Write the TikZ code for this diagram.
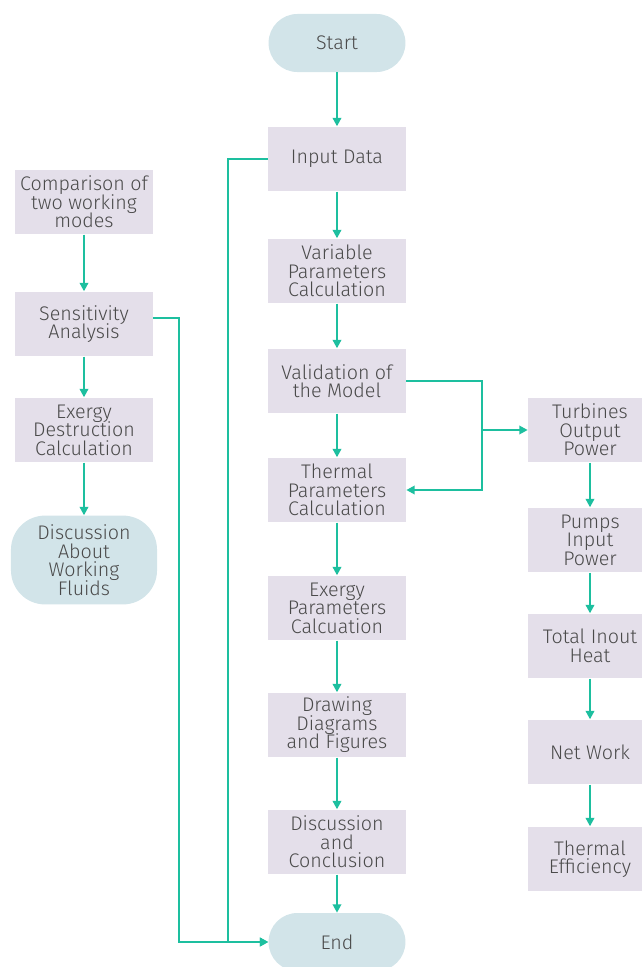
\documentclass[tikz,border=0pt]{standalone}
\usepackage{fontspec}
\setmainfont{Fira Sans Light}
\usetikzlibrary{arrows.meta}

\definecolor{flowline}{HTML}{1DBF9F}
\definecolor{boxfill}{HTML}{E4DFEA}
\definecolor{termfill}{HTML}{D2E4E9}
\definecolor{textgray}{HTML}{4A4A4A}

\newcommand{\boxfont}{\fontsize{14}{13.2}\selectfont\lineskiplimit=-20pt\relax}

\begin{document}
\begin{tikzpicture}[x=0.025cm, y=-0.025cm,
		>={Triangle[length=6pt, width=6pt]}]
\useasboundingbox (0,0) rectangle (641,967);

% Nodos terminales
\begin{scope}[
		every node/.style = {shape = rectangle, fill = termfill,
		rounded corners = 0.72cm, minimum width = 3.42cm,
		minimum height = 1.45cm, text = textgray, font = \boxfont}]
	\node (start) at (337,43) {Start};
	\node (end) at (337,942) {End};
	\node[minimum width = 3.65cm, minimum height = 2.22cm,
		rounded corners = 0.85cm, align = center] (fluids) at (84,560)
		{Discussion\\About\\Working\\Fluids};
\end{scope}

% Nodos proceso
\begin{scope}[
		every node/.style = {shape = rectangle, fill = boxfill,
		minimum width = 3.45cm, minimum height = 1.62cm,
		inner sep = 0pt, align = center, text = textgray,
		font = \boxfont}]
	\node (input) at (337,159) {Input Data};
	\node (varpar) at (337,271) {Variable\\Parameters\\Calculation};
	\node (valid) at (337,381) {Validation of\\the Model};
	\node (thermpar) at (337,490) {Thermal\\Parameters\\Calculation};
	\node (exerpar) at (337,608) {Exergy\\Parameters\\Calcuation};
	\node (diagrams) at (337,725) {Drawing\\Diagrams\\and Figures};
	\node (concl) at (337,842) {Discussion\\and\\Conclusion};

	\node (modes) at (84,202) {Comparison of\\two working\\modes};
	\node (sens) at (84,324) {Sensitivity\\Analysis};
	\node (destr) at (84,430) {Exergy\\Destruction\\Calculation};

	\node[minimum width = 3.1cm] (turb) at (590,430) {Turbines\\Output\\Power};
	\node[minimum width = 3.1cm] (pumps) at (590,540) {Pumps\\Input\\Power};
	\node[minimum width = 3.1cm] (heat) at (590,646) {Total Inout\\Heat};
	\node[minimum width = 3.1cm] (work) at (590,752) {Net Work};
	\node[minimum width = 3.1cm] (eff) at (590,859) {Thermal\\Efficiency};
\end{scope}

\coordinate (split) at (482,430);

% Paths
\begin{scope}[
		every path/.style = {draw = flowline, line width = 1.5pt},
		every edge/.style = {draw = flowline, line width = 1.5pt, ->}]
	\path (start) edge (input);
	\path (input) edge (varpar);
	\path (varpar) edge (valid);
	\path (valid) edge (thermpar);
	\path (thermpar) edge (exerpar);
	\path (exerpar) edge (diagrams);
	\path (diagrams) edge (concl);
	\path (concl) edge (end);

	\path (modes) edge (sens);
	\path (sens) edge (destr);
	\path (destr) edge (fluids);

	\path (turb) edge (pumps);
	\path (pumps) edge (heat);
	\path (heat) edge (work);
	\path (work) edge (eff);

	\draw[->] (input.west) -- ++(-40,0) |- (end.west);
	\draw[->] ([yshift=0.15cm]sens.east) -- ++(26,0) |- (end.west);
	\draw[->] (valid.east) -| (split) |- (thermpar.east);
	\draw[->] (split) -- (turb.west);
\end{scope}
\end{tikzpicture}
\end{document}
